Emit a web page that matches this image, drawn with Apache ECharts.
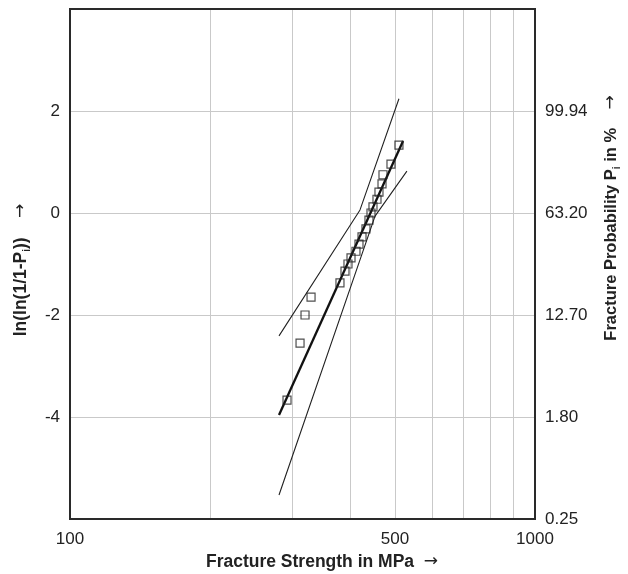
<!DOCTYPE html>
<html>
<head>
<meta charset="utf-8">
<script src="https://cdn.jsdelivr.net/npm/echarts@6/dist/echarts.min.js"></script>
<style>
html, body { margin: 0; padding: 0; background: #fff; }
#chart { width: 628px; height: 574px; }
</style>
</head>
<body>
<div id="chart"></div>
<script>
// measured specimens: strength (MPa) vs ln(ln(1/(1-Pi)))
var strength = [292.9, 312.4, 320.2, 329.9, 380.7, 390.3, 396.1, 402.1, 412.1, 418.3, 424.6,
                433.0, 439.5, 443.9, 448.3, 457.3, 461.8, 468.8, 471.1, 490.1, 509.8];
var lnln = [-3.67, -2.55, -2.0, -1.65, -1.37, -1.14, -1.0, -0.88, -0.75, -0.61, -0.47,
            -0.31, -0.14, 0.0, 0.12, 0.27, 0.41, 0.57, 0.75, 0.96, 1.33];

// weibull fit and confidence bounds
var fitX = [281.5, 520.3];
var fitY = [-3.96, 1.41];
var upperX = [281.5, 420.4, 509.8];
var upperY = [-2.41, 0.06, 2.24];
var lowerX = [281.5, 452.9, 530.3];
var lowerY = [-5.53, -0.06, 0.82];

// axis ticks
var xGridValues = [100, 200, 300, 400, 500, 600, 700, 800, 900, 1000];
var xLabelValues = [100, 500, 1000];
var leftLabels = { '-4': '-4', '-2': '-2', '0': '0', '2': '2' };
var rightLabels = { '-6': '0.25', '-4': '1.80', '-2': '12.70', '0': '63.20', '2': '99.94' };

function pairs(xs, ys) {
  var out = [];
  for (var i = 0; i < xs.length; i++) out.push([xs[i], ys[i]]);
  return out;
}

var font = 'Liberation Sans, Arial, sans-serif';
var gridLine = { color: '#c9c9c9', width: 1 };
var frame = { color: '#2a2a2a', width: 2 };
var nameRich = {
  a: { font: 'bold 17.5px ' + font, fill: '#222', lineHeight: 22 },
  b: { font: 'bold 16.5px ' + font, fill: '#222', lineHeight: 22 },
  s: { font: 'bold 10px ' + font, fill: '#222', lineHeight: 10, verticalAlign: 'bottom' },
  r: { font: '17px DejaVu Sans', fill: '#222', lineHeight: 22 }
};
var chart = echarts.init(document.getElementById('chart'));

var option = {
  animation: false,
  backgroundColor: '#fff',
  grid: {
    left: 70, top: 9, right: 93, bottom: 55,
    show: true, borderColor: '#2a2a2a', borderWidth: 2, backgroundColor: 'transparent'
  },
  xAxis: [
    {
      type: 'log',
      logBase: 10,
      min: 100,
      max: 1000,
      axisLine: { show: true, onZero: false, lineStyle: frame },
      axisTick: { show: false, customValues: xGridValues },
      splitLine: { show: true, showMinLine: false, showMaxLine: false, lineStyle: gridLine },
      axisLabel: {
        customValues: xLabelValues,
        color: '#222', fontSize: 17, fontFamily: font, margin: 12,
        formatter: function (v) { return String(Math.round(v)); }
      }
    },
    {
      type: 'value', position: 'top', min: 0, max: 1,
      axisLine: { show: true, onZero: false, lineStyle: frame },
      axisTick: { show: false }, axisLabel: { show: false }, splitLine: { show: false }
    }
  ],
  yAxis: [
    {
      type: 'value', min: -6, max: 4, interval: 2,
      axisLine: { show: true, onZero: false, lineStyle: frame }, axisTick: { show: false },
      splitLine: { show: true, showMinLine: false, showMaxLine: false, lineStyle: gridLine },
      axisLabel: {
        color: '#222', fontSize: 17, fontFamily: font, margin: 10,
        formatter: function (v) { return leftLabels[String(v)] || ''; }
      }
    },
    {
      type: 'value', min: -6, max: 4, interval: 2, position: 'right',
      axisLine: { show: true, onZero: false, lineStyle: frame }, axisTick: { show: false },
      splitLine: { show: false },
      axisLabel: {
        color: '#222', fontSize: 17, fontFamily: font, margin: 10,
        formatter: function (v) { return rightLabels[String(v)] || ''; }
      }
    }
  ],
  graphic: [
    {
      type: 'text', x: 322, y: 562,
      style: {
        text: '{a|Fracture Strength in MPa  }{r|\u2192}',
        align: 'center', verticalAlign: 'middle', rich: nameRich
      }
    },
    {
      type: 'text', x: 21, y: 270, rotation: Math.PI / 2,
      style: {
        text: '{a|ln(ln(1/1-P}{s|i}{a|))    }{r|\u2192}',
        align: 'center', verticalAlign: 'middle', rich: nameRich
      }
    },
    {
      type: 'text', x: 611, y: 218, rotation: Math.PI / 2,
      style: {
        text: '{b|Fracture Probability P}{s|i}{b| in %    }{r|\u2192}',
        align: 'center', verticalAlign: 'middle', rich: nameRich
      }
    }
  ],
  series: [
    {
      type: 'line', data: pairs(upperX, upperY), symbol: 'none',
      lineStyle: { color: '#222', width: 1.1 }, z: 3
    },
    {
      type: 'line', data: pairs(lowerX, lowerY), symbol: 'none',
      lineStyle: { color: '#222', width: 1.1 }, z: 3
    },
    {
      type: 'line', data: pairs(fitX, fitY), symbol: 'none',
      lineStyle: { color: '#111', width: 2.3 }, z: 4
    },
    {
      type: 'scatter', data: pairs(strength, lnln), symbol: 'rect', symbolSize: 8,
      itemStyle: { color: 'rgba(255,255,255,0)', borderColor: '#222', borderWidth: 1.2 }, z: 5
    }
  ]
};

chart.setOption(option);
</script>
</body>
</html>
